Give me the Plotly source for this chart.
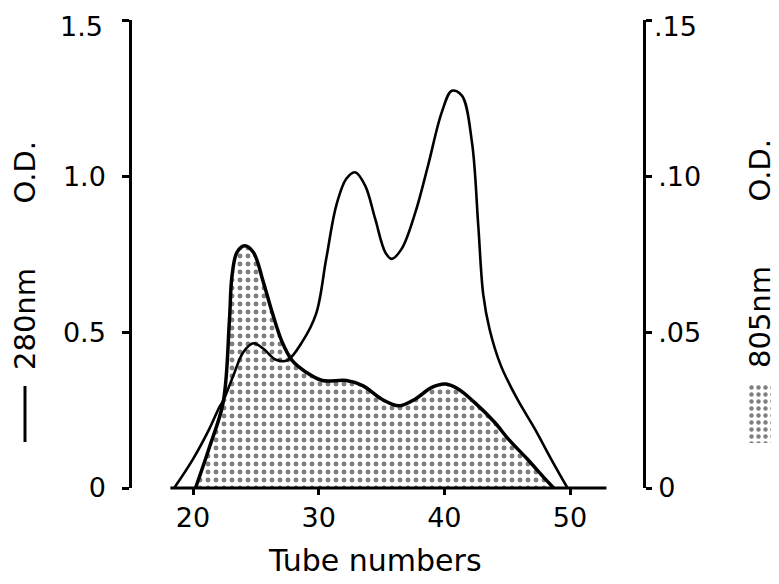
import plotly.graph_objects as go

# ---- data ----
tube_280 = [18.5, 20.0, 21.3, 22.1, 22.4, 23.2, 24.0, 24.8, 25.6, 26.6, 27.5, 28.7, 29.8,
            30.6, 31.4, 32.2, 32.9, 33.7, 34.5, 35.3, 35.8, 36.6, 37.7, 38.7, 39.8, 40.6,
            41.4, 42.2, 42.7, 43.1, 43.6, 44.5, 45.8, 47.2, 48.5, 49.8]
od_280 = [0.0, 0.093, 0.19, 0.26, 0.28, 0.36, 0.436, 0.465, 0.447, 0.412, 0.41, 0.47, 0.56,
          0.736, 0.907, 0.993, 1.014, 0.971, 0.864, 0.757, 0.736, 0.768, 0.886, 1.035, 1.207, 1.276,
          1.26, 1.11, 0.843, 0.62, 0.51, 0.393, 0.286, 0.19, 0.093, 0.0]

tube_805 = [20.2, 21.3, 22.4, 22.9, 23.1, 23.5, 24.1, 24.8, 25.6, 26.3, 27.1, 27.9, 29.0,
            30.3, 32.2, 33.5, 35.0, 36.4, 37.7, 39.0, 40.1, 41.1, 42.4, 44.0, 45.1, 46.6,
            48.0, 48.7]
od_805 = [0.0, 0.013, 0.0275, 0.054, 0.068, 0.0757, 0.0778, 0.0757, 0.0661, 0.0564, 0.0468,
          0.0409, 0.0372, 0.0345, 0.0345, 0.0329, 0.0286, 0.0264, 0.0286, 0.0323, 0.0334,
          0.0318, 0.0275, 0.0211, 0.0157, 0.0093, 0.003, 0.0]

x_ticks = [20, 30, 40, 50]
left_ticks = [0, 0.5, 1.0, 1.5]
left_labels = ["0", "0.5", "1.0", "1.5"]
right_ticks = [0, 0.05, 0.10, 0.15]
right_labels = ["0", ".05", ".10", ".15"]

# ---- geometry (page pixels; the page body has an 8px margin) ----
OFF = 8
W, H = 779 - OFF, 584 - OFF


def px(x):
    return (x - OFF) / W


def py(y):
    return (H - (y - OFF)) / H


xl, xr = 132, 643
yt, yb = 20, 488
dom_x = [px(xl), px(xr)]
dom_y = [py(yb), py(yt)]
ppu = (570 - 193) / 30.0
x_lo = 20 - (193 - xl) / ppu
x_hi = x_lo + (xr - xl) / ppu
EPS = 1.002

FONT = "DejaVu Sans"
fig = go.Figure()

fig.add_trace(go.Scatter(
    x=tube_805, y=od_805, xaxis="x", yaxis="y", mode="lines",
    line=dict(color="black", width=3.5, shape="spline", smoothing=1.0),
    fill="tozeroy",
    fillpattern=dict(shape=".", fgcolor="black", bgcolor="white", size=8, solidity=0.3),
    hoverinfo="skip"))

fig.add_trace(go.Scatter(
    x=tube_280, y=od_280, xaxis="x", yaxis="y2", mode="lines",
    line=dict(color="black", width=2.6, shape="spline", smoothing=1.0),
    hoverinfo="skip"))

# swatch for the 805 nm label
fig.add_trace(go.Scatter(
    x=[0, 1, 1, 0, 0], y=[0, 0, 1, 1, 0], xaxis="x3", yaxis="y3", mode="none",
    fill="toself",
    fillpattern=dict(shape=".", fgcolor="black", bgcolor="white", size=7, solidity=0.32),
    hoverinfo="skip"))

TICK_SIZE = 27
tickfont = dict(family=FONT, size=TICK_SIZE, color="black")

# the top labels would be dropped by the axis (they touch the page edge),
# so they are written as annotations at their tick values instead
left_text = [t if v != left_ticks[-1] else "" for v, t in zip(left_ticks, left_labels)]
right_text = [t if v != right_ticks[-1] else "" for v, t in zip(right_ticks, right_labels)]

fig.update_layout(
    width=W, height=H,
    margin=dict(l=0, r=0, t=0, b=0, autoexpand=False),
    paper_bgcolor="white", plot_bgcolor="white",
    showlegend=False,
    font=dict(family=FONT, color="black"),
    xaxis=dict(domain=dom_x, range=[x_lo, x_hi], anchor="y", showline=False,
               showgrid=False, zeroline=False, ticks="outside", ticklen=6, tickwidth=2.5,
               tickcolor="black", tickvals=x_ticks, tickfont=tickfont,
               ticklabelstandoff=0, automargin=False),
    yaxis=dict(domain=dom_y, range=[0, 0.15 * EPS], anchor="x", side="right",
               showline=True, linewidth=2.5, linecolor="black", showgrid=False,
               zeroline=False, ticks="outside", ticklen=6, tickwidth=2.5,
               tickcolor="black", tickvals=right_ticks, ticktext=right_text,
               tickfont=tickfont, ticklabelstandoff=1, automargin=False),
    yaxis2=dict(overlaying="y", range=[0, 1.5 * EPS], anchor="x", side="left",
                showline=True, linewidth=2.5, linecolor="black", showgrid=False,
                zeroline=False, ticks="outside", ticklen=7, tickwidth=2.5,
                tickcolor="black", tickvals=left_ticks, ticktext=left_text,
                tickfont=tickfont, ticklabelstandoff=11, automargin=False),
    xaxis3=dict(domain=[px(748), px(772)], range=[0, 1], visible=False, anchor="y3",
                automargin=False),
    yaxis3=dict(domain=[py(443), py(384)], range=[0, 1], visible=False,
                anchor="x3", automargin=False),
)

fig.add_annotation(text=left_labels[-1], xref="paper", yref="y2", x=px(104),
                   y=left_ticks[-1], xanchor="right", yanchor="middle", showarrow=False,
                   yshift=-6, borderpad=0, font=tickfont)
fig.add_annotation(text=right_labels[-1], xref="paper", yref="y", x=px(653),
                   y=right_ticks[-1], xanchor="left", yanchor="middle", showarrow=False,
                   yshift=-6, borderpad=0, font=tickfont)

fig.add_shape(type="line", xref="x", yref="paper", x0=18.2, x1=52.9,
              y0=dom_y[0], y1=dom_y[0], line=dict(color="black", width=3))
fig.add_shape(type="line", xref="paper", yref="paper", x0=px(25), x1=px(25),
              y0=py(442), y1=py(386), line=dict(color="black", width=3))

gap = "\u00a0" * 7
fig.add_annotation(text="Tube numbers", xref="paper", yref="paper",
                   x=px(375), y=py(560), xanchor="center", yanchor="middle",
                   showarrow=False, font=dict(family=FONT, size=30, color="black"))
fig.add_annotation(text="280nm" + gap + "O.D.", xref="paper", yref="paper",
                   x=px(25), y=py(256), xanchor="center", yanchor="middle",
                   showarrow=False, textangle=-90,
                   font=dict(family=FONT, size=29, color="black"))
fig.add_annotation(text="805nm" + gap + "O.D.", xref="paper", yref="paper",
                   x=px(760), y=py(254), xanchor="center", yanchor="middle",
                   showarrow=False, textangle=-90,
                   font=dict(family=FONT, size=29, color="black"))

fig.write_html("out.html")
